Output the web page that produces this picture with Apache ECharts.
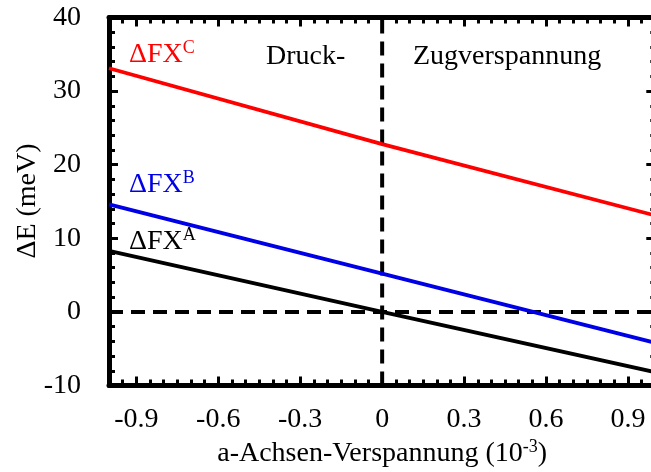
<!DOCTYPE html>
<html>
<head>
<meta charset="utf-8">
<script src="https://cdn.jsdelivr.net/npm/echarts@6/dist/echarts.min.js"></script>
<style>
  html, body { margin: 0; padding: 0; background: #fff; }
  #chart { width: 651px; height: 472px; }
</style>
</head>
<body>
<div id="chart"></div>
<script>
// Strain along the a axis (10^-3) and the energy splittings (meV)
const strain = [-1, 0, 1];
const dFXA = [8.3, 0, -8.2];
const dFXB = [14.6, 5.2, -4.2];
const dFXC = [33.1, 22.8, 13.1];

// Reference lines through zero strain and zero energy
const zeroStrainLine = [[0, -10], [0, 40]];
const zeroEnergyLine = [[-1, 0], [1, 0]];

// Axis ranges and ticks
const xRange = [-1, 1];
const yRange = [-10, 40];
const xMajorTicks = [-0.9, -0.6, -0.3, 0, 0.3, 0.6, 0.9];
const xMinorStep = 0.05;
const yMajorStep = 10;

const FONT = '"Liberation Serif", "Times New Roman", serif';
const FS = 28;

function pairs(xs, ys) { return xs.map((x, i) => [x, ys[i]]); }
function fmtX(v) { return Math.abs(v) < 1e-9 ? '0' : v.toFixed(1); }

const axisLine = { show: true, onZero: false, lineStyle: { color: '#000', width: 5 } };
const noLine = { show: false, onZero: false };
const labelStyle = { fontFamily: FONT, fontSize: FS, color: '#000' };
const tickStyle = { color: '#000', width: 3 };

const chart = echarts.init(document.getElementById('chart'), null, { renderer: 'canvas' });

const baseX = { type: 'value', min: xRange[0], max: xRange[1], splitLine: { show: false } };
const baseY = { type: 'value', min: yRange[0], max: yRange[1], splitLine: { show: false } };

chart.setOption({
  animation: false,
  backgroundColor: '#fff',
  grid: { left: 109, top: 17.5, width: 546.3, height: 368, containLabel: false, outerBoundsMode: 'none' },
  xAxis: [
    // bottom: minor ticks
    Object.assign({}, baseX, { position: 'bottom', interval: xMinorStep, axisLine,
      axisTick: { show: true, inside: true, length: 6, lineStyle: tickStyle },
      axisLabel: { show: false } }),
    // bottom: major ticks and labels
    Object.assign({}, baseX, { position: 'bottom', axisLine: noLine,
      axisTick: { show: true, inside: true, length: 9, customValues: xMajorTicks, lineStyle: tickStyle },
      axisLabel: Object.assign({ show: true, margin: 20, customValues: xMajorTicks, formatter: fmtX }, labelStyle),
      name: 'a-Achsen-Verspannung (10{sup|-3})',
      nameLocation: 'middle', nameGap: 42,
      nameTextStyle: { fontFamily: FONT, fontSize: FS, color: '#000',
        rich: { sup: { fontFamily: FONT, fontSize: 18, color: '#000', padding: [0, 0, 13, 0] } } } }),
    // top: minor ticks
    Object.assign({}, baseX, { position: 'top', interval: xMinorStep, axisLine,
      axisTick: { show: true, inside: true, length: 6, lineStyle: tickStyle },
      axisLabel: { show: false } }),
    // top: major ticks
    Object.assign({}, baseX, { position: 'top', axisLine: noLine,
      axisTick: { show: true, inside: true, length: 9, customValues: xMajorTicks, lineStyle: tickStyle },
      axisLabel: { show: false } })
  ],
  yAxis: [
    Object.assign({}, baseY, { position: 'left', interval: yMajorStep, axisLine,
      axisTick: { show: true, inside: true, length: 9, lineStyle: tickStyle },
      minorTick: { show: true, splitNumber: 5, length: 6, lineStyle: tickStyle },
      axisLabel: Object.assign({ show: true, margin: 28 }, labelStyle) }),
    Object.assign({}, baseY, { position: 'right', interval: yMajorStep, axisLine,
      axisTick: { show: true, inside: true, length: 9, lineStyle: tickStyle },
      minorTick: { show: true, splitNumber: 5, length: 5, lineStyle: tickStyle },
      axisLabel: { show: false } })
  ],
  series: [
    { type: 'line', data: zeroStrainLine, symbol: 'none', silent: true,
      lineStyle: { color: '#000', width: 4, type: [14, 8] } },
    { type: 'line', data: zeroEnergyLine, symbol: 'none', silent: true,
      lineStyle: { color: '#000', width: 4, type: [14, 8] } },
    { name: 'ΔFX^C', type: 'line', data: pairs(strain, dFXC), symbol: 'none',
      lineStyle: { color: '#ff0000', width: 3.8 } },
    { name: 'ΔFX^B', type: 'line', data: pairs(strain, dFXB), symbol: 'none',
      lineStyle: { color: '#0000e6', width: 3.8 } },
    { name: 'ΔFX^A', type: 'line', data: pairs(strain, dFXA), symbol: 'none',
      lineStyle: { color: '#000', width: 3.8 } }
  ],
  graphic: [
    // vertical axis title
    { type: 'text', x: 28, y: 201, rotation: Math.PI / 2,
      style: { text: 'ΔE (meV)', fill: '#000', font: FS + 'px ' + FONT, align: 'center', verticalAlign: 'middle' } },
    { type: 'text', left: 129, top: 39, style: { text: 'ΔFX{s|C}', fill: '#ff0000',
        font: FS + 'px ' + FONT, rich: { s: { fontSize: 18, fontFamily: FONT, fill: '#ff0000', padding: [0, 0, 13, 0] } } } },
    { type: 'text', left: 129, top: 169, style: { text: 'ΔFX{s|B}', fill: '#0000e6',
        font: FS + 'px ' + FONT, rich: { s: { fontSize: 18, fontFamily: FONT, fill: '#0000e6', padding: [0, 0, 13, 0] } } } },
    { type: 'text', left: 129, top: 226, style: { text: 'ΔFX{s|A}', fill: '#000',
        font: FS + 'px ' + FONT, rich: { s: { fontSize: 18, fontFamily: FONT, fill: '#000', padding: [0, 0, 13, 0] } } } },
    { type: 'text', left: 266, top: 43, style: { text: 'Druck-', fill: '#000', font: FS + 'px ' + FONT } },
    { type: 'text', left: 413, top: 43, style: { text: 'Zugverspannung', fill: '#000', font: FS + 'px ' + FONT } }
  ]
});
</script>
</body>
</html>
